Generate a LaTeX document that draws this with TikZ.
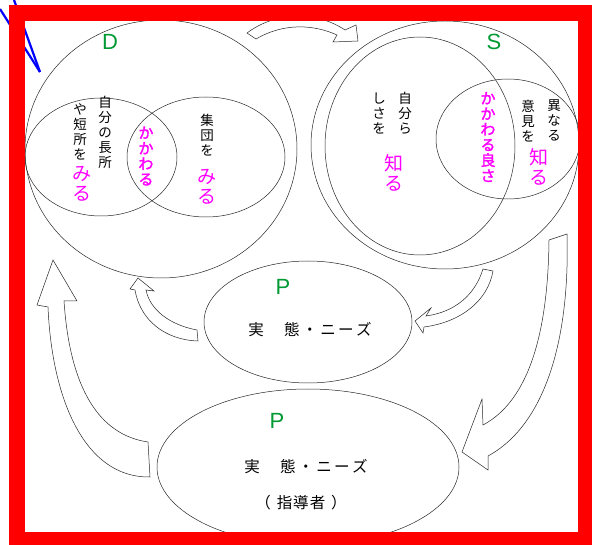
\documentclass[tikz,border=0pt]{standalone}
\usepackage{fontspec}
\setmainfont{Noto Sans CJK JP}
\newfontfamily\latfont{Liberation Sans}
\newfontfamily\jpbold[FakeBold=2]{Noto Sans CJK JP}
\usetikzlibrary{shapes.geometric}
\definecolor{pgreen}{RGB}{0,153,51}
\definecolor{pmag}{RGB}{255,0,255}
\newcommand\jsp{\kern2.5pt\relax}
\tikzset{
 ell/.style={ellipse, draw=black!85, line width=0.5pt, inner sep=0pt},
 blockarrow/.style={draw=black!85, fill=white, line width=0.5pt, line join=miter},
 vtext/.style={align=center, inner sep=0pt, font=\fontsize{13.5}{15}\selectfont},
 vbig/.style={align=center, inner sep=0pt, text=pmag, font=\fontsize{19}{20}\selectfont},
 vbold/.style={align=center, inner sep=0pt, text=pmag, font=\jpbold\fontsize{15}{15.5}\selectfont},
 letter/.style={text=pgreen, font=\latfont\fontsize{22}{22}\selectfont, inner sep=0pt},
 htext/.style={inner sep=0pt, font=\fontsize{15.5}{18}\selectfont},
}
\begin{document}
\begin{tikzpicture}[x=1pt,y=-1pt]
\useasboundingbox (0,0) rectangle (592,545);
% ellipses
\node[ell, minimum width=272pt, minimum height=258pt] (Douter) at (161,149) {};
\node[ell, minimum width=152pt, minimum height=118pt] (Dleft) at (101,157) {};
\node[ell, minimum width=158pt, minimum height=120pt] (Dright) at (206,157) {};
\node[ell, minimum width=268pt, minimum height=248pt] (Souter) at (445,145) {};
\node[ell, minimum width=190pt, minimum height=218pt] (Sleft) at (420,146) {};
\node[ell, minimum width=144pt, minimum height=120pt] (Sright) at (508,139) {};
\node[ell, minimum width=208pt, minimum height=122pt] (Pmid) at (308,322) {};
\node[ell, minimum width=302pt, minimum height=156pt] (Pbot) at (308,467) {};
% block arrows
\draw[blockarrow] (256,39) .. controls (285,22) and (315,25) .. (337,35) -- (333,42) -- (358,41) -- (356,25) -- (345,30) .. controls (315,10) and (275,12) .. (247,33) -- cycle;
\draw[blockarrow] (483,269) .. controls (475,295) and (455,312) .. (426,316) -- (431,308) -- (415,321) -- (423,333) -- (424,327) .. controls (462,322) and (488,300) .. (493,271) -- cycle;
\draw[blockarrow] (549,240) .. controls (548,330) and (530,400) .. (483,425) -- (482,399) -- (462,452) -- (488,470) -- (488,456) .. controls (545,425) and (570,340) .. (567,234) -- cycle;
\draw[blockarrow] (197,330) .. controls (170,325) and (150,310) .. (146,290) -- (154,291) -- (138,278) -- (130,289) -- (135,290) .. controls (140,320) and (165,340) .. (198,341) -- cycle;
\draw[blockarrow] (148,442) .. controls (100,435) and (70,390) .. (64,301) -- (77,301) -- (53,260) -- (37,305) -- (48,307) .. controls (52,400) and (85,478) .. (150,477) -- cycle;
% letters
\node[letter] (dl) at (110,42) {D};
\node[letter] (sl) at (494,42) {S};
\node[letter] (p1) at (283,287) {P};
\node[letter] (p2) at (277,421) {P};
% D texts
\node[vtext] (d1) at (105,132) {自\\分\\の\\長\\所};
\node[vtext] (d2) at (80,132) {や\\短\\所\\を};
\node[vbig] (d3) at (82,184) {み\\る};
\node[vbold] (d4) at (146,156) {か\\か\\わ\\る};
\node[vtext] (d5) at (207,135) {集\\団\\を};
\node[vbig] (d6) at (207,187) {み\\る};
% S texts
\node[vtext] (s1) at (405,113) {自\\分\\ら};
\node[vtext] (s2) at (379,114) {し\\さ\\を};
\node[vbig] (s3) at (394,173) {知\\る};
\node[vbold] (s4) at (488,137) {か\\か\\わ\\る\\良\\さ};
\node[vtext] (s5) at (554,120) {異\\な\\る};
\node[vtext] (s6) at (528,121) {意\\見\\を};
\node[vbig] (s7) at (539,167) {知\\る};
% P texts
\node[htext] (m1) at (310,330) {実\jsp{}　\jsp{}態\jsp{}・\jsp{}ニ\jsp{}ー\jsp{}ズ};
\node[htext] (b1) at (306,467) {実\jsp{}　\jsp{}態\jsp{}・\jsp{}ニ\jsp{}ー\jsp{}ズ};
\node[htext] (b2) at (301,503) {（\kern6pt\relax 指\kern1pt\relax 導\kern1pt\relax 者\kern6pt\relax ）};
% blue lines
\coordinate (bl0) at (40,72);
\coordinate (bl1) at (0,9);
\coordinate (bl2) at (14,0);
\draw[blue, line width=2.2pt] (bl1) -- (bl0);
\draw[blue, line width=2.2pt] (bl2) -- (bl0);
% red frame
\draw[red, line width=16pt] (17,13) rectangle (586,540);
\end{tikzpicture}
\end{document}
